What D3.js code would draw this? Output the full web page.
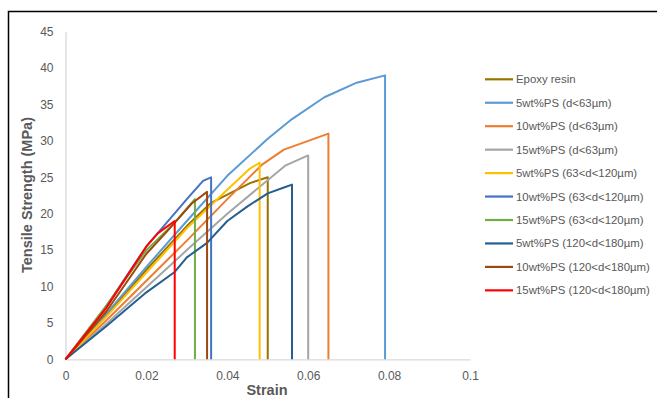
<!DOCTYPE html>
<html>
<head>
<meta charset="utf-8">
<script src="https://cdn.jsdelivr.net/npm/d3@7"></script>
<style>
  body { margin: 0; background: #fff; }
  text { font-family: "Liberation Sans", Arial, sans-serif; }
</style>
</head>
<body>
<div id="chart"></div>
<script>
// tick values
var xTicks = [0, 0.02, 0.04, 0.06, 0.08, 0.1];
var yTicks = [0, 5, 10, 15, 20, 25, 30, 35, 40, 45];

// series names and colours (legend order)
var names = [
  "Epoxy resin",
  "5wt%PS (d<63\u00b5m)",
  "10wt%PS (d<63\u00b5m)",
  "15wt%PS (d<63\u00b5m)",
  "5wt%PS (63<d<120\u00b5m)",
  "10wt%PS (63<d<120\u00b5m)",
  "15wt%PS (63<d<120\u00b5m)",
  "5wt%PS (120<d<180\u00b5m)",
  "10wt%PS (120<d<180\u00b5m)",
  "15wt%PS (120<d<180\u00b5m)"
];
var colors = ["#997300", "#5B9BD5", "#ED7D31", "#A5A5A5", "#FFC000",
              "#4472C4", "#70AD47", "#255E91", "#9E480E", "#FF0000"];

// strain / stress pairs
var epoxy   = [[0,0],[0.01,6],[0.02,12.3],[0.03,18.3],[0.036,21.5],[0.0456,24.2],[0.05,25],[0.05,0]];
var ps5s    = [[0,0],[0.01,6.2],[0.02,12.7],[0.03,19],[0.04,25.2],[0.05,30.3],[0.056,33],[0.064,36],[0.072,38],[0.079,39],[0.079,0]];
var ps10s   = [[0,0],[0.01,5.3],[0.02,10.8],[0.03,16.3],[0.04,22],[0.0485,26.7],[0.054,28.8],[0.065,31],[0.065,0]];
var ps15s   = [[0,0],[0.01,4.8],[0.02,9.9],[0.03,15],[0.04,20],[0.0543,26.6],[0.06,28],[0.06,0]];
var ps5m    = [[0,0],[0.01,5.8],[0.02,11.9],[0.03,18],[0.04,23.3],[0.0456,26.2],[0.048,27],[0.048,0]];
var ps10m   = [[0,0],[0.01,7.2],[0.02,15.5],[0.03,22],[0.034,24.5],[0.036,25],[0.036,0]];
var ps15m   = [[0,0],[0.01,7.3],[0.02,15],[0.0267,18.6],[0.032,22],[0.032,0]];
var ps5l    = [[0,0],[0.01,4.5],[0.02,9.2],[0.027,12],[0.03,14],[0.035,16],[0.04,19],[0.045,21],[0.05,22.8],[0.054,23.6],[0.056,24],[0.056,0]];
var ps10l   = [[0,0],[0.01,6.5],[0.02,14.5],[0.025,17.5],[0.0312,21.4],[0.035,23],[0.035,0]];
var ps15l   = [[0,0],[0.01,7],[0.02,15.5],[0.0228,17.3],[0.027,19],[0.027,0]];

var allSeries = [epoxy, ps5s, ps10s, ps15s, ps5m, ps10m, ps15m, ps5l, ps10l, ps15l];

var width = 657;
var height = 398;

var svg = d3.select("#chart")
    .append("svg")
    .attr("width", width)
    .attr("height", height);

// outer frame (cropped on right and bottom)
svg.append("rect")
    .attr("x", 8.5)
    .attr("y", 11.5)
    .attr("width", 700)
    .attr("height", 420)
    .attr("fill", "#fff")
    .attr("stroke", "#000")
    .attr("stroke-width", 1.5);

var xScale = d3.scaleLinear().domain([0, 0.1]).range([65.5, 470]);
var yScale = d3.scaleLinear().domain([0, 45]).range([359.3, 31.7]);

// axes
var xAxis = d3.axisBottom(xScale)
    .tickValues(xTicks)
    .tickSize(0)
    .tickPadding(12)
    .tickFormat(function(d) { return d3.format("~g")(d); });

var yAxis = d3.axisLeft(yScale)
    .tickValues(yTicks)
    .tickSize(0)
    .tickPadding(12);

var gx = svg.append("g")
    .attr("transform", "translate(0," + yScale(0) + ")")
    .call(xAxis);
var gy = svg.append("g")
    .attr("transform", "translate(" + xScale(0) + ",0)")
    .call(yAxis);

[gx, gy].forEach(function(g) {
    g.select(".domain").attr("stroke", "#d9d9d9").attr("stroke-width", 1.3);
    g.selectAll("text")
        .attr("fill", "#595959")
        .style("font-size", "12px");
});

// axis titles
svg.append("text")
    .attr("x", 267)
    .attr("y", 395)
    .attr("text-anchor", "middle")
    .attr("fill", "#595959")
    .style("font-size", "14.5px")
    .style("font-weight", "bold")
    .text("Strain");

svg.append("text")
    .attr("transform", "translate(32,195)rotate(-90)")
    .attr("text-anchor", "middle")
    .attr("fill", "#595959")
    .style("font-size", "14.5px")
    .style("font-weight", "bold")
    .text("Tensile Strength (MPa)");

// lines
var line = d3.line()
    .x(function(d) { return xScale(d[0]); })
    .y(function(d) { return yScale(d[1]); });

svg.selectAll(".curve")
    .data(allSeries)
    .enter()
    .append("path")
    .attr("class", "curve")
    .attr("d", line)
    .attr("fill", "none")
    .attr("stroke", function(d, i) { return colors[i]; })
    .attr("stroke-width", 2)
    .attr("stroke-linejoin", "round");

// legend
var legend = svg.append("g").attr("transform", "translate(485,79.3)");
var rows = legend.selectAll(".row")
    .data(names)
    .enter()
    .append("g")
    .attr("transform", function(d, i) { return "translate(0," + (i * 23.45) + ")"; });

rows.append("line")
    .attr("x1", 0)
    .attr("x2", 28)
    .attr("stroke", function(d, i) { return colors[i]; })
    .attr("stroke-width", 2.2);

var legText = rows.append("text")
    .attr("x", 31)
    .attr("dy", "0.35em")
    .attr("fill", "#595959")
    .style("font-size", "12px")
    .text(function(d) { return d; });

// fit the longest label to the width it has in the picture (~134px)
var longest = d3.max(legText.nodes(), function(n) { return n.getComputedTextLength(); });
var legSize = Math.min(12.5, 12 * 134 / longest);
legText.style("font-size", legSize + "px");
</script>
</body>
</html>
